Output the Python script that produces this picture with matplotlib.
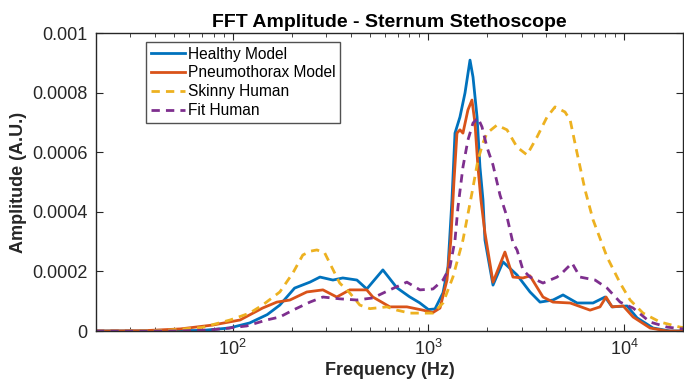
import numpy as np
import matplotlib
matplotlib.use("Agg")
import matplotlib.pyplot as plt
from matplotlib.ticker import FuncFormatter, LogLocator, NullFormatter

plt.rcParams['font.family'] = ['Liberation Sans', 'DejaVu Sans']
plt.rcParams['mathtext.fontset'] = 'custom'
plt.rcParams['mathtext.rm'] = 'Liberation Sans'
plt.rcParams['mathtext.it'] = 'Liberation Sans'

# FFT amplitude spectra (frequency in Hz, amplitude in units of 1e-4)
healthy_f = [20, 38, 70, 96, 122, 150, 174, 207, 248, 279, 325, 365, 431, 484, 585, 690,
             800, 900, 1000, 1080, 1187, 1259, 1319, 1367, 1449, 1538, 1631, 1690, 1772,
             1834, 1900, 1945, 2138, 2404, 2837, 3305, 3718, 4333, 4874, 5750, 6940, 7990,
             8683, 10360, 11650, 14060, 17170, 20000]
healthy_a = [0, 0, 0.02, 0.10, 0.27, 0.55, 0.87, 1.44, 1.64, 1.81, 1.71, 1.78, 1.71, 1.41,
             2.05, 1.45, 1.15, 0.95, 0.72, 0.74, 1.28, 2.15, 4.40, 6.64, 7.18, 7.99, 9.09,
             8.52, 7.18, 5.50, 4.40, 3.05, 1.54, 2.32, 1.88, 1.31, 0.97, 1.04, 1.21, 0.94,
             0.94, 1.14, 0.81, 0.84, 0.44, 0.10, 0, 0]

pneumo_f = [20, 35, 54, 79, 109, 142, 168, 196, 239, 289, 340, 396, 484, 520, 635, 776,
            937, 1055, 1146, 1244, 1300, 1350, 1399, 1449, 1501, 1592, 1669, 1729, 1791,
            1855, 1945, 2138, 2460, 2704, 3041, 3305, 3851, 4333, 5300, 6700, 7530, 8090,
            8683, 9890, 11120, 13580, 16600, 20000]
pneumo_a = [0, 0.01, 0.07, 0.20, 0.37, 0.77, 0.97, 1.04, 1.31, 1.38, 1.14, 1.38, 1.38,
            1.14, 0.81, 0.81, 0.70, 0.62, 0.77, 1.71, 3.0, 5.0, 6.64, 6.75, 6.64, 7.42,
            7.75, 6.98, 5.50, 4.40, 3.29, 1.64, 2.65, 1.81, 1.78, 1.85, 1.14, 0.97, 0.94,
            0.70, 0.81, 1.14, 0.81, 0.84, 0.47, 0.10, 0, 0]

skinny_f = [20, 45, 70, 97, 122, 142, 174, 203, 228, 250, 269, 295, 313, 352, 396, 446,
            502, 613, 690, 804, 982, 1055, 1187, 1334, 1501, 1669, 1791, 1900, 1991, 2240,
            2521, 2837, 3190, 3589, 4037, 4436, 4988, 5300, 5750, 6318, 6940, 8185, 9540,
            10730, 12500, 15280, 19320, 20000]
skinny_a = [0, 0.02, 0.12, 0.37, 0.60, 0.87, 1.31, 1.95, 2.55, 2.68, 2.72, 2.62, 2.28,
            1.61, 1.28, 0.87, 0.75, 0.81, 0.70, 0.60, 0.60, 0.60, 0.94, 1.81, 3.05, 4.63,
            5.74, 6.31, 6.64, 6.91, 6.75, 6.17, 5.91, 6.51, 7.18, 7.52, 7.35, 7.08, 5.97,
            4.73, 3.73, 2.48, 1.61, 1.04, 0.60, 0.30, 0.13, 0.12]

fit_f = [20, 50, 75, 96, 118, 149, 174, 203, 248, 289, 352, 431, 520, 635, 776, 905, 1055,
         1187, 1288, 1367, 1416, 1501, 1592, 1690, 1791, 1878, 1991, 2138, 2322, 2521, 2704,
         2837, 3041, 3305, 3851, 4543, 4874, 5420, 5955, 7108, 8185, 9540, 11120, 13580,
         16600, 20000]
fit_a = [0, 0, 0.03, 0.10, 0.17, 0.37, 0.47, 0.70, 0.97, 1.14, 1.08, 1.04, 1.11, 1.38,
         1.64, 1.38, 1.41, 1.71, 2.15, 3.05, 4.16, 5.50, 6.41, 6.98, 7.15, 6.85, 6.17, 5.57,
         4.56, 3.83, 2.95, 2.72, 2.05, 1.81, 1.61, 1.81, 1.98, 2.28, 1.81, 1.71, 1.44, 0.97,
         0.77, 0.30, 0.13, 0.07]

series = [
    ("Healthy Model", healthy_f, healthy_a, "#0072BD", "-"),
    ("Pneumothorax Model", pneumo_f, pneumo_a, "#D95319", "-"),
    ("Skinny Human", skinny_f, skinny_a, "#EDB120", (0, (3.0, 2.2))),
    ("Fit Human", fit_f, fit_a, "#7E2F8E", (0, (3.0, 2.2))),
]

fig = plt.figure(figsize=(6.84, 3.89), dpi=100)
ax = fig.add_axes([96 / 684, 1 - 331 / 389, 587 / 684, 298 / 389])

for name, f, a, col, ls in series:
    ax.plot(f, np.array(a) * 1e-4, color=col, linestyle=ls, linewidth=2.0, label=name)

ax.set_xscale("log")
ax.set_xlim(20, 20000)
ax.set_ylim(0, 0.001)
ax.set_yticks([0, 0.0002, 0.0004, 0.0006, 0.0008, 0.001])
ax.yaxis.set_major_formatter(FuncFormatter(lambda v, p: "%g" % v))
ax.xaxis.set_major_locator(LogLocator(base=10, numticks=10))
ax.xaxis.set_minor_locator(LogLocator(base=10, subs=np.arange(2, 10), numticks=20))
ax.xaxis.set_minor_formatter(NullFormatter())

dark = "#262626"
for s in ax.spines.values():
    s.set_color(dark)
    s.set_linewidth(1.0)
ax.tick_params(which="both", direction="in", top=True, right=True, colors=dark,
               labelsize=13)
ax.tick_params(which="major", length=5)
ax.tick_params(which="minor", length=3)
ax.tick_params(axis="y", pad=6)
ax.tick_params(axis="x", pad=6)

ax.set_title("FFT Amplitude - Sternum Stethoscope", fontsize=14, fontweight="bold",
             color="black", pad=4)
ax.set_xlabel("Frequency (Hz)", fontsize=13, fontweight="bold", color=dark, labelpad=2)
ax.set_ylabel("Amplitude (A.U.)", fontsize=13, fontweight="bold", color=dark, labelpad=4)

leg = ax.legend(loc="upper left", bbox_to_anchor=(0.085, 0.97), fontsize=11.2,
                frameon=True, fancybox=False, handlelength=2.2, handletextpad=0.2,
                borderpad=0.3, labelspacing=0.25, borderaxespad=0)
leg.get_frame().set_edgecolor(dark)
leg.get_frame().set_linewidth(1.0)

fig.savefig("out.png", dpi=100)
